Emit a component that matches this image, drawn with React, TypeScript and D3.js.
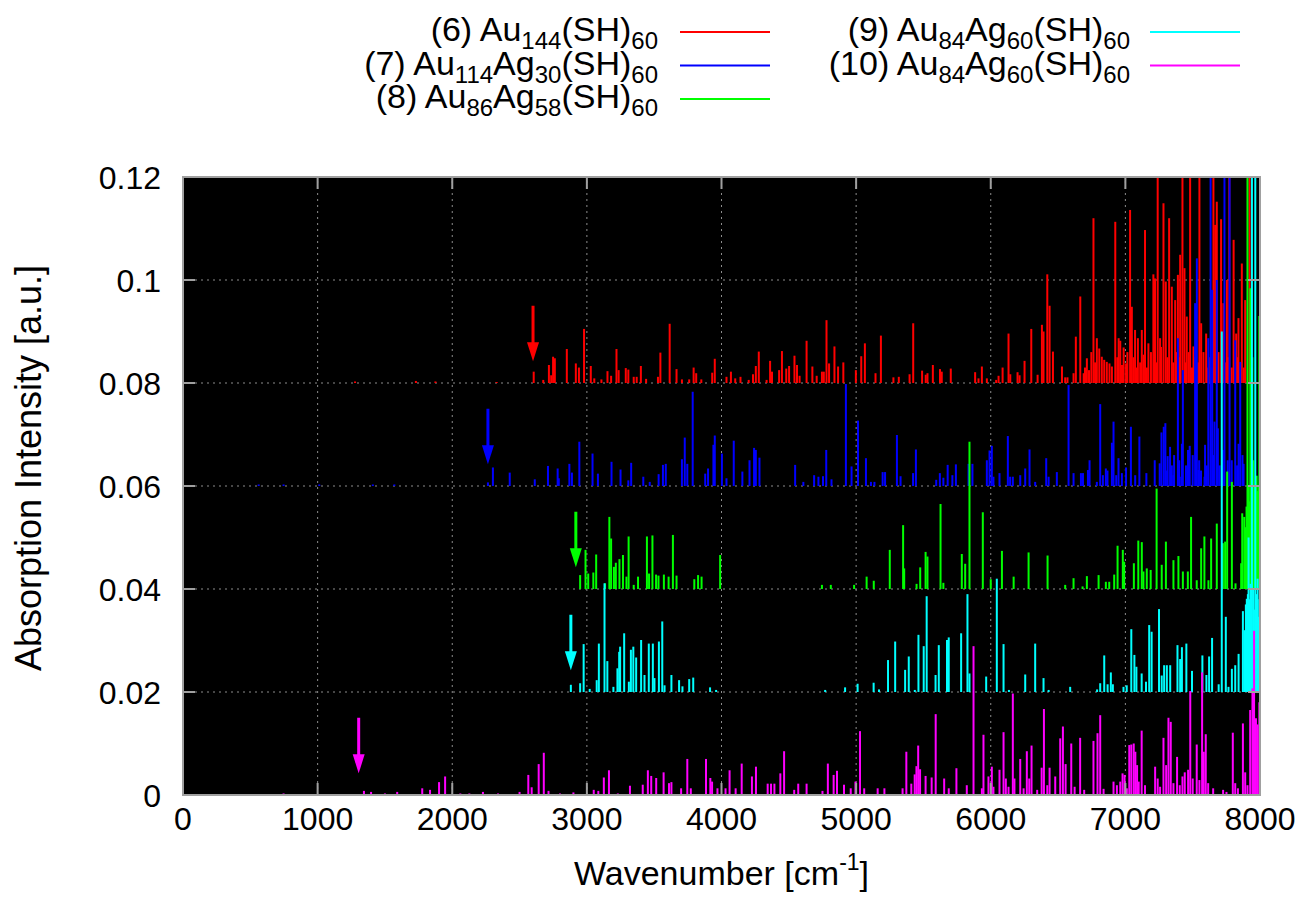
import React, { useEffect, useRef } from 'react';
import * as d3 from 'd3';

// [wavenumber in cm^-1, intensity in 1e-3 a.u.]
type Stick = [number, number];

const au144: Stick[] = [
  [1278, 0.3], [1730, 0.4], [1875, 0.3], [2330, 0.2],
  [2605, 2.2], [2676, 0.6], [2718, 3.5], [2735, 1.5], [2749, 5.1], [2762, 4.8], [2851, 6.6], [2918, 3.8],
  [2941, 3.0], [2979, 10.5], [3029, 3.3], [3055, 0.9], [3108, 0.7], [3153, 2.3], [3180, 1.4], [3220, 6.6],
  [3236, 2.5], [3289, 2.9], [3308, 2.6], [3348, 1.2], [3370, 1.2], [3401, 3.3], [3440, 0.8], [3528, 1.2],
  [3546, 5.9], [3615, 11.5], [3666, 2.7], [3706, 0.7], [3760, 0.7], [3793, 3.0], [3812, 1.9], [3850, 0.7],
  [3931, 2.0], [3950, 4.7], [4037, 1.2], [4070, 2.2], [4102, 0.9], [4141, 1.2], [4202, 0.6], [4234, 1.7],
  [4255, 3.3], [4277, 6.1], [4335, 0.6], [4361, 4.3], [4375, 2.2], [4428, 2.5], [4449, 6.2], [4481, 2.8],
  [4502, 3.3], [4542, 5.3], [4561, 3.5], [4580, 1.4], [4632, 8.2], [4675, 3.2], [4707, 1.4], [4746, 2.2],
  [4760, 2.2], [4780, 12.2], [4799, 3.8], [4839, 7.1], [4866, 3.2], [4905, 4.0], [4998, 2.5], [5038, 5.2],
  [5065, 7.7], [5144, 1.9], [5184, 9.2], [5277, 1.1], [5317, 1.2], [5397, 1.7], [5424, 11.6], [5490, 2.4],
  [5517, 1.6], [5530, 1.9], [5570, 3.5], [5623, 2.7], [5636, 2.2], [5703, 2.8], [5884, 2.1], [5909, 0.9],
  [5934, 3.2], [5971, 0.9], [6040, 0.6], [6058, 1.4], [6088, 3.0], [6132, 9.6], [6145, 1.7], [6199, 2.1],
  [6214, 1.5], [6251, 4.3], [6301, 10.5], [6348, 1.6], [6380, 11.3], [6392, 10.0], [6420, 21.1], [6437, 15.0],
  [6462, 6.1], [6529, 3.2], [6553, 1.1], [6570, 1.1], [6615, 1.9], [6632, 9.0], [6665, 16.8], [6690, 1.9],
  [6700, 3.0], [6714, 4.8], [6730, 2.5], [6747, 6.0], [6763, 32.0], [6775, 4.0], [6788, 8.7], [6806, 6.7],
  [6825, 5.1], [6843, 4.5], [6862, 4.1], [6882, 3.8], [6900, 3.2], [6925, 31.3], [6940, 5.0], [6950, 8.7],
  [6962, 8.2], [6975, 3.5], [6987, 6.9], [7005, 3.8], [7015, 6.0], [7035, 33.6], [7048, 14.8], [7060, 5.0],
  [7072, 10.3], [7080, 3.0], [7093, 8.7], [7110, 4.0], [7122, 10.3], [7135, 5.5], [7146, 29.7], [7160, 3.0],
  [7171, 7.7], [7190, 6.0], [7208, 21.1], [7220, 20.3], [7230, 4.0], [7240, 45], [7258, 8.7], [7265, 7.0],
  [7283, 34.9], [7300, 19.7], [7312, 5.0], [7325, 32.0], [7345, 18.7], [7355, 4.0], [7370, 16.1], [7380, 6.0],
  [7390, 21.0], [7400, 5.0], [7407, 24.9], [7424, 45], [7439, 22.3], [7447, 4.0], [7456, 12.9], [7470, 6.0],
  [7481, 45], [7495, 3.0], [7506, 7.1], [7520, 5.0], [7538, 4.0], [7550, 45], [7563, 11.6], [7580, 6.0],
  [7600, 9.6], [7612, 3.0], [7630, 5.0], [7654, 45], [7667, 30.7], [7679, 35.2], [7692, 6.0], [7711, 31.8],
  [7728, 15.5], [7740, 4.0], [7754, 20.0], [7762, 5.0], [7772, 45], [7790, 3.0], [7804, 27.8], [7823, 9.6],
  [7830, 5.0], [7840, 12.6], [7852, 4.0], [7865, 23.2], [7880, 3.0], [7890, 16.1], [7922, 45],
];

const au114ag30: Stick[] = [
  [562, 0.3], [747, 0.3], [1012, 0.3], [1410, 0.3], [1570, 0.3],
  [2265, 0.7], [2302, 3.6], [2427, 2.6], [2613, 1.3], [2711, 3.9], [2783, 3.4], [2791, 1.5], [2870, 4.3],
  [2889, 2.6], [2944, 8.6], [3042, 6.3], [3082, 2.4], [3183, 4.7], [3250, 3.2], [3308, 1.1], [3329, 4.5],
  [3419, 1.8], [3467, 0.8], [3533, 2.3], [3565, 4.1], [3586, 4.3], [3706, 5.2], [3727, 9.4], [3746, 4.3],
  [3786, 18.3], [3879, 2.4], [3900, 3.4], [3940, 8.0], [3950, 9.8], [4003, 6.3], [4037, 1.5], [4091, 8.8],
  [4155, 2.8], [4208, 5.0], [4242, 7.4], [4255, 7.0], [4282, 5.5], [4547, 4.1], [4608, 0.8], [4688, 2.1],
  [4720, 1.8], [4754, 1.9], [4778, 7.0], [4817, 1.3], [4924, 19.8], [4966, 3.8], [5014, 12.7], [5073, 5.4],
  [5110, 0.8], [5136, 0.8], [5197, 2.7], [5215, 2.7], [5303, 9.9], [5330, 1.9], [5423, 2.5], [5444, 7.1],
  [5595, 1.2], [5622, 2.5], [5648, 1.6], [5680, 4.1], [5715, 2.1], [5741, 4.2], [5835, 4.3], [5864, 4.3],
  [5971, 5.0], [5991, 6.9], [6008, 7.8], [6020, 1.8], [6065, 2.5], [6127, 9.7], [6144, 1.8], [6164, 1.8],
  [6219, 2.1], [6256, 3.4], [6288, 7.1], [6330, 0.8], [6412, 5.4], [6430, 1.8], [6491, 2.7], [6578, 19.6],
  [6615, 2.5], [6670, 2.5], [6685, 2.5], [6722, 3.1], [6734, 5.0], [6788, 0.8], [6813, 15.9], [6833, 2.1],
  [6855, 3.4], [6867, 3.0], [6900, 8.4], [6912, 12.5], [6932, 2.1], [6949, 5.4], [6974, 2.5], [7005, 3.6],
  [7041, 11.5], [7073, 2.1], [7104, 9.6], [7156, 2.5], [7218, 5.0], [7255, 4.4], [7268, 10.4], [7285, 11.5],
  [7297, 12.2], [7310, 3.0], [7314, 5.8], [7332, 7.6], [7345, 4.0], [7357, 2.1], [7362, 6.0], [7390, 28.7],
  [7400, 5.0], [7404, 1.8], [7420, 8.2], [7427, 22.5], [7450, 4.0], [7465, 7.0], [7478, 7.8], [7500, 6.0],
  [7518, 35.5], [7531, 44.2], [7543, 3.1], [7548, 5.0], [7562, 3.0], [7588, 1.8], [7592, 8.0], [7605, 4.0],
  [7616, 28.7], [7633, 65], [7645, 38.1], [7655, 6.0], [7662, 12.5], [7679, 40.0], [7687, 11.2], [7700, 4.0],
  [7724, 7.0], [7736, 65], [7760, 5.0], [7774, 65], [7790, 5.0], [7816, 28.3], [7830, 4.0], [7841, 8.2],
  [7853, 24.1], [7870, 6.0], [7878, 4.3],
];

const au86ag58: Stick[] = [
  [2950, 2.7], [2990, 7.6], [3010, 3.0], [3048, 3.2], [3069, 6.7], [3135, 1.1], [3167, 14.0], [3180, 9.8],
  [3201, 4.3], [3215, 5.1], [3242, 5.8], [3268, 6.6], [3294, 2.4], [3310, 10.2], [3348, 0.8], [3380, 2.4],
  [3446, 10.2], [3462, 3.0], [3487, 10.4], [3514, 2.8], [3532, 2.6], [3572, 2.8], [3607, 2.4], [3639, 10.5],
  [3666, 2.6], [3798, 1.9], [3826, 2.7], [3852, 2.4], [3990, 6.6], [4746, 0.8], [4812, 0.8], [4985, 0.8],
  [5078, 2.4], [5131, 1.6], [5250, 7.6], [5349, 12.4], [5357, 4.0], [5449, 1.0], [5476, 4.2], [5516, 7.2],
  [5530, 6.3], [5627, 16.5], [5648, 1.2], [5785, 6.8], [5810, 4.9], [5842, 28.6], [5941, 14.9], [6000, 1.9],
  [6083, 7.4], [6170, 2.4], [6281, 7.1], [6422, 6.5], [6553, 0.8], [6615, 2.1], [6682, 0.5], [6714, 2.5],
  [6801, 2.7], [6855, 1.4], [6880, 1.4], [6917, 2.8], [6942, 8.4], [6981, 7.6], [6991, 5.3], [7063, 5.0],
  [7096, 9.4], [7122, 9.1], [7134, 3.4], [7159, 4.0], [7188, 3.7], [7232, 19.5], [7270, 4.7], [7301, 9.2],
  [7357, 5.6], [7394, 6.4], [7427, 3.4], [7464, 3.4], [7488, 14.0], [7530, 1.7], [7563, 7.9], [7587, 10.2],
  [7617, 1.7], [7637, 9.8], [7679, 12.7], [7724, 8.9], [7741, 9.2], [7756, 22.8], [7791, 20.8], [7818, 1.1],
  [7860, 5.0], [7868, 14.7], [7883, 14.0], [7890, 12.0], [7900, 16.0], [7907, 90], [7915, 20.0], [7920, 17.0],
  [7928, 58.4], [7935, 19.0], [7943, 45], [7950, 25.0], [7955, 20.0], [7960, 16.0], [7965, 18.0], [7970, 21.0],
  [7975, 22.0], [7980, 18.0], [7985, 19.0], [7990, 20.0], [7995, 53],
];

const au84ag60a: Stick[] = [
  [2881, 1.4], [2950, 1.7], [2976, 9.3], [3021, 0.6], [3073, 2.3], [3089, 9.4], [3131, 21.1], [3152, 6.0],
  [3197, 1.0], [3227, 4.6], [3240, 7.8], [3247, 8.8], [3277, 11.4], [3312, 2.0], [3327, 8.2], [3345, 8.8],
  [3366, 6.7], [3403, 10.1], [3428, 3.3], [3460, 9.4], [3490, 9.4], [3502, 2.7], [3535, 9.8], [3560, 13.7],
  [3577, 1.3], [3628, 3.3], [3685, 2.3], [3710, 1.1], [3760, 2.5], [3790, 2.8], [3915, 0.9], [3960, 0.4],
  [4770, 0.4], [4918, 0.9], [5011, 1.6], [5130, 1.8], [5170, 0.5], [5237, 6.2], [5290, 9.8], [5364, 4.3],
  [5391, 6.9], [5436, 0.4], [5463, 11.1], [5502, 8.9], [5524, 18.6], [5590, 3.3], [5614, 9.1], [5675, 10.1],
  [5688, 10.6], [5780, 11.4], [5827, 19.0], [5842, 3.6], [5966, 3.0], [6045, 22], [6095, 9.3], [6135, 0.4],
  [6256, 3.4], [6330, 9.4], [6392, 2.7], [6430, 0.4], [6590, 1.0], [6790, 0.5], [6813, 1.7], [6843, 7.1],
  [6868, 1.5], [6892, 3.8], [6907, 1.5], [6986, 1.0], [7010, 1.3], [7044, 12.2], [7067, 7.2], [7082, 4.9],
  [7121, 3.6], [7153, 2.0], [7177, 13.0], [7195, 11.7], [7250, 16.1], [7270, 3.2], [7288, 5.2], [7308, 5.2],
  [7333, 5.2], [7387, 9.1], [7407, 6.4], [7420, 8.7], [7453, 9.4], [7495, 4.1], [7572, 7.1], [7602, 3.3],
  [7622, 6.9], [7644, 10.5], [7693, 1.5], [7716, 70], [7746, 14.6], [7766, 1.0], [7791, 4.5], [7816, 5.2],
  [7841, 7.4], [7873, 15.7], [7885, 12.0], [7895, 17.0], [7902, 18.1], [7910, 19.0], [7915, 30], [7925, 18.0],
  [7930, 21.0], [7940, 100], [7950, 20.0], [7955, 16.0], [7965, 100], [7975, 19.0], [7982, 22.0], [7990, 14.6],
  [7995, 18.0],
];

const au84ag60b: Stick[] = [
  [747, 0.3], [1344, 0.8], [1397, 0.6], [1500, 0.3], [1591, 0.6], [1777, 1.3], [1835, 1.0], [1902, 2.5],
  [1947, 3.6], [2060, 0.3], [2127, 0.3], [2228, 0.6], [2340, 0.3], [2500, 0.6], [2565, 3.9], [2590, 1.5],
  [2642, 6.0], [2680, 8.2], [2715, 0.8], [2800, 0.3], [2900, 0.5], [3051, 1.0], [3085, 0.8], [3126, 3.4],
  [3164, 4.8], [3230, 0.3], [3320, 1.8], [3415, 2.0], [3453, 4.8], [3478, 3.7], [3515, 3.3], [3570, 4.4],
  [3610, 2.3], [3628, 2.5], [3700, 1.3], [3746, 7.0], [3772, 1.3], [3885, 7.0], [3917, 3.3], [3930, 2.6],
  [3970, 1.3], [4030, 1.3], [4060, 4.8], [4105, 1.3], [4150, 6.1], [4226, 3.6], [4256, 5.5], [4343, 2.2],
  [4368, 2.2], [4393, 2.2], [4437, 4.2], [4465, 8.5], [4540, 1.0], [4570, 2.2], [4632, 2.2], [4750, 0.8],
  [4790, 6.1], [4833, 3.9], [4858, 4.7], [4910, 2.0], [4960, 1.3], [4995, 2.6], [5029, 12.4], [5060, 1.3],
  [5160, 1.3], [5210, 1.3], [5345, 1.3], [5373, 8.4], [5410, 2.2], [5435, 4.0], [5448, 5.6], [5461, 9.6],
  [5475, 5.0], [5516, 3.7], [5561, 3.4], [5591, 15.7], [5654, 3.2], [5688, 1.3], [5745, 5.2], [5822, 1.9],
  [5872, 28.9], [5934, 1.3], [5946, 11.7], [5983, 3.6], [6008, 5.5], [6020, 1.6], [6065, 4.9], [6095, 12.2],
  [6112, 3.2], [6132, 1.6], [6164, 19.7], [6176, 3.2], [6219, 7.0], [6244, 1.3], [6268, 8.5], [6286, 3.2],
  [6303, 9.6], [6345, 1.0], [6378, 5.3], [6395, 16.7], [6420, 1.9], [6437, 5.3], [6479, 3.6], [6516, 11.0],
  [6536, 13.3], [6556, 6.0], [6598, 10.0], [6623, 1.6], [6664, 11.1], [6694, 1.0], [6763, 10.5], [6793, 12.0],
  [6813, 15.5], [6838, 1.2], [6912, 2.6], [6937, 1.9], [6962, 2.6], [6979, 4.2], [6994, 3.9], [7011, 1.3],
  [7029, 9.7], [7044, 9.8], [7062, 10.0], [7074, 8.4], [7087, 5.8], [7099, 2.6], [7121, 12.5], [7146, 1.9],
  [7221, 5.5], [7240, 3.2], [7258, 1.6], [7283, 11.1], [7303, 5.8], [7320, 15.0], [7337, 14.2], [7357, 2.3],
  [7384, 7.4], [7404, 1.9], [7424, 3.6], [7441, 4.4], [7466, 4.9], [7482, 20.2], [7500, 3.2], [7530, 9.8],
  [7550, 2.9], [7570, 23.8], [7582, 8.4], [7597, 11.8], [7615, 2.3], [7652, 1.3], [7726, 1.0], [7751, 0.6],
  [7798, 12.1], [7816, 2.3], [7836, 1.3], [7873, 13.9], [7890, 4.4], [7907, 1.9], [7927, 16.5], [7944, 20.7],
  [7952, 19.5], [7956, 31.9], [7970, 14.9], [7982, 13.7], [7995, 18.0],
];

const seriesData = [au144, au114ag30, au86ag58, au84ag60a, au84ag60b];
const seriesColors = ['#ff0000', '#0000ff', '#00ff00', '#00ffff', '#ff00ff'];
const seriesOffsets = [0.08, 0.06, 0.04, 0.02, 0];
// onset arrows, cm^-1
const onsetMarks = [2600, 2265, 2918, 2881, 1305];
// legend labels: even parts normal text, odd parts subscripts
const legendLabels = [
  ['(6) Au', '144', '(SH)', '60'],
  ['(7) Au', '114', 'Ag', '30', '(SH)', '60'],
  ['(8) Au', '86', 'Ag', '58', '(SH)', '60'],
  ['(9) Au', '84', 'Ag', '60', '(SH)', '60'],
  ['(10) Au', '84', 'Ag', '60', '(SH)', '60'],
];
const xTicks = [0, 1000, 2000, 3000, 4000, 5000, 6000, 7000, 8000];
const yTicks = [0, 0.02, 0.04, 0.06, 0.08, 0.1, 0.12];

const FONT = '"Liberation Sans", Arial, sans-serif';

export default function App() {
  const svgRef = useRef<SVGSVGElement>(null);

  useEffect(() => {
    if (!svgRef.current) return;
    const width = 1306;
    const height = 901;
    const margin = { top: 177, right: 46, bottom: 106, left: 183 };
    const x0 = margin.left;
    const x1 = width - margin.right;
    const y0 = height - margin.bottom;
    const y1 = margin.top;

    const svg = d3.select(svgRef.current);
    svg.selectAll('*').remove();
    svg.attr('width', width).attr('height', height);

    const x = d3.scaleLinear().domain([0, 8000]).range([x0, x1]);
    const y = d3.scaleLinear().domain([0, 0.12]).range([y0, y1]);

    svg.append('rect').attr('width', width).attr('height', height).attr('fill', '#fff');
    svg.append('rect').attr('x', x0).attr('y', y1).attr('width', x1 - x0).attr('height', y0 - y1).attr('fill', '#000');

    svg.append('clipPath').attr('id', 'plot-clip')
      .append('rect').attr('x', x0).attr('y', y1).attr('width', x1 - x0).attr('height', y0 - y1);

    // grid
    const grid = svg.append('g').attr('stroke', '#8c8c8c').attr('stroke-width', 1).attr('stroke-dasharray', '2,4');
    xTicks.slice(1, -1).forEach((t) => {
      grid.append('line').attr('x1', x(t)).attr('x2', x(t)).attr('y1', y0).attr('y2', y1);
    });
    yTicks.slice(1, -1).forEach((t) => {
      grid.append('line').attr('x1', x0).attr('x2', x1).attr('y1', y(t)).attr('y2', y(t));
    });

    // impulses
    const plot = svg.append('g').attr('clip-path', 'url(#plot-clip)');
    seriesData.forEach((data, i) => {
      const off = seriesOffsets[i];
      plot.append('g')
        .selectAll('line')
        .data(data)
        .enter()
        .append('line')
        .attr('x1', (d) => x(d[0]))
        .attr('x2', (d) => x(d[0]))
        .attr('y1', y(off))
        .attr('y2', (d) => y(off + d[1] * 1e-3))
        .attr('stroke', seriesColors[i])
        .attr('stroke-width', 2);
    });

    // onset arrows
    onsetMarks.forEach((wn, i) => {
      const off = seriesOffsets[i];
      const ax = x(wn);
      const top = y(off + 0.015);
      const tip = y(off + 0.0042);
      const head = 19;
      svg.append('line')
        .attr('x1', ax).attr('x2', ax).attr('y1', top).attr('y2', tip - head + 2)
        .attr('stroke', seriesColors[i]).attr('stroke-width', 3);
      svg.append('path')
        .attr('d', `M${ax - 6},${tip - head}L${ax + 6},${tip - head}L${ax},${tip}Z`)
        .attr('fill', seriesColors[i]);
    });

    // border and ticks
    svg.append('rect').attr('x', x0).attr('y', y1).attr('width', x1 - x0).attr('height', y0 - y1)
      .attr('fill', 'none').attr('stroke', '#a0a0a0').attr('stroke-width', 2);
    const ticks = svg.append('g').attr('stroke', '#a0a0a0').attr('stroke-width', 2);
    const tl = 12;
    xTicks.forEach((t) => {
      ticks.append('line').attr('x1', x(t)).attr('x2', x(t)).attr('y1', y0).attr('y2', y0 - tl);
      ticks.append('line').attr('x1', x(t)).attr('x2', x(t)).attr('y1', y1).attr('y2', y1 + tl);
    });
    yTicks.forEach((t) => {
      ticks.append('line').attr('x1', x0).attr('x2', x0 + tl).attr('y1', y(t)).attr('y2', y(t));
      ticks.append('line').attr('x1', x1).attr('x2', x1 - tl).attr('y1', y(t)).attr('y2', y(t));
    });

    const fs = 32;
    svg.append('g').selectAll('text').data(xTicks).enter().append('text')
      .attr('x', (d) => x(d)).attr('y', y0 + 35)
      .attr('text-anchor', 'middle').attr('font-family', FONT).attr('font-size', fs).attr('fill', '#000')
      .text((d) => String(d));
    svg.append('g').selectAll('text').data(yTicks).enter().append('text')
      .attr('x', x0 - 22).attr('y', (d) => y(d)).attr('dy', '0.36em')
      .attr('text-anchor', 'end').attr('font-family', FONT).attr('font-size', fs).attr('fill', '#000')
      .text((d) => (d === 0 ? '0' : String(+d.toFixed(2))));

    const xl = svg.append('text').attr('x', (x0 + x1) / 2).attr('y', 885)
      .attr('text-anchor', 'middle').attr('font-family', FONT).attr('font-size', 34).attr('fill', '#000');
    xl.append('tspan').text('Wavenumber [cm');
    xl.append('tspan').attr('font-size', 23).attr('dy', -15).text('-1');
    xl.append('tspan').attr('dy', 15).text(']');

    svg.append('text').attr('transform', `translate(41,468) rotate(-90)`)
      .attr('text-anchor', 'middle').attr('font-family', FONT).attr('font-size', 36).attr('fill', '#000')
      .text('Absorption Intensity [a.u.]');

    // legend
    const rowH = 33.5;
    const lfs = 34;
    legendLabels.forEach((parts, i) => {
      const col = i < 3 ? 0 : 1;
      const row = i < 3 ? i : i - 3;
      const textEnd = col === 0 ? 658 : 1130;
      const lineX = col === 0 ? 680 : 1150;
      const ly = 32 + row * rowH;
      svg.append('line').attr('x1', lineX).attr('x2', lineX + 90).attr('y1', ly).attr('y2', ly)
        .attr('stroke', seriesColors[i]).attr('stroke-width', 2);
      const t = svg.append('text').attr('x', textEnd).attr('y', ly + 9)
        .attr('text-anchor', 'end').attr('font-family', FONT).attr('font-size', lfs).attr('fill', '#000');
      parts.forEach((p, k) => {
        const sub = k % 2 === 1;
        t.append('tspan').attr('font-size', sub ? 24 : lfs).attr('dy', k === 0 ? 0 : sub ? 8 : -8).text(p);
      });
    });
  }, []);

  return <svg ref={svgRef} style={{ position: 'absolute', left: 0, top: 0, display: 'block' }} />;
}
